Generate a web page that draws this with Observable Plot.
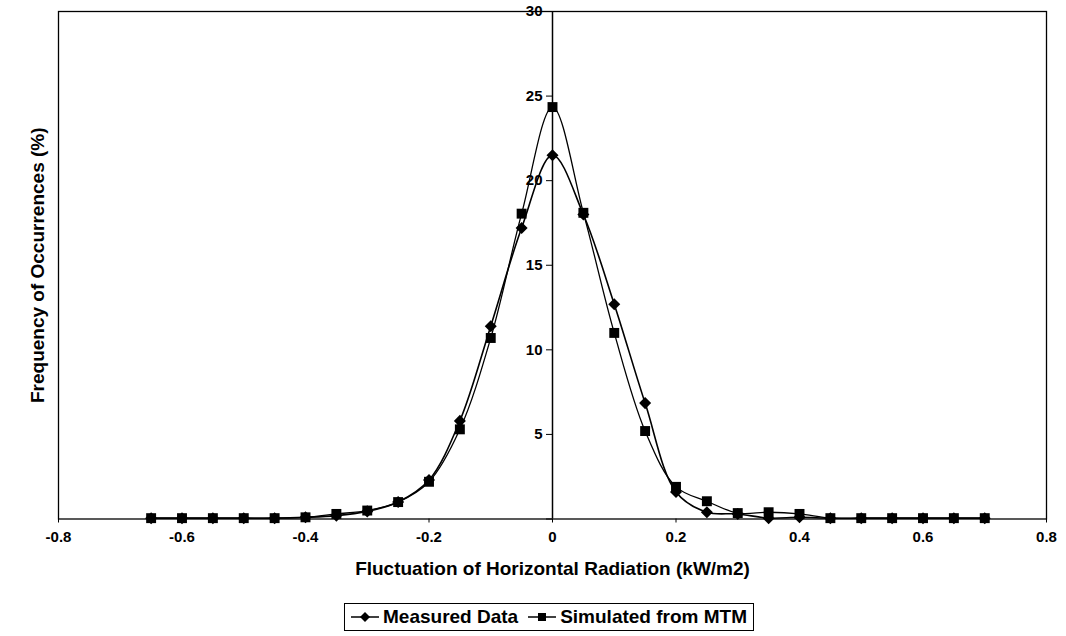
<!DOCTYPE html>
<html><head><meta charset="utf-8">
<script src="https://cdn.jsdelivr.net/npm/d3@7"></script>
<script src="https://cdn.jsdelivr.net/npm/@observablehq/plot@0.6"></script>
<style>
body{margin:0;background:#fff;font-family:"Liberation Sans",Arial,sans-serif;}
#chart{position:absolute;left:0;top:0;}
#legend{position:absolute;left:549px;top:603px;transform:translateX(-50%);height:28px;padding:0 6px;border:1.5px solid #000;box-sizing:border-box;display:flex;align-items:center;gap:10px;font-weight:bold;font-size:19px;color:#000;white-space:nowrap;}
#legend .item{display:flex;align-items:center;gap:4px;}
</style></head><body>
<div id="chart"></div>
<div id="legend"></div>
<script>
const xValues = [-0.65,-0.6,-0.55,-0.5,-0.45,-0.4,-0.35,-0.3,-0.25,-0.2,-0.15,-0.1,-0.05,0,0.05,0.1,0.15,0.2,0.25,0.3,0.35,0.4,0.45,0.5,0.55,0.6,0.65,0.7];
const measured = [0.05,0.05,0.05,0.05,0.05,0.1,0.2,0.45,1.0,2.3,5.8,11.4,17.2,21.5,18.0,12.7,6.85,1.6,0.4,0.3,0.05,0.1,0.05,0.05,0.05,0.05,0.05,0.05];
const simulated = [0.05,0.05,0.05,0.05,0.05,0.1,0.3,0.5,1.0,2.2,5.3,10.7,18.05,24.35,18.1,11.0,5.2,1.9,1.05,0.35,0.4,0.3,0.05,0.05,0.05,0.05,0.05,0.05];
const xTicks = [-0.8,-0.6,-0.4,-0.2,0,0.2,0.4,0.6,0.8];
const yTicks = [0,5,10,15,20,25,30];
const seriesNames = ["Measured Data","Simulated from MTM"];
const xTitle = "Fluctuation of Horizontal Radiation (kW/m2)";
const yTitle = "Frequency of Occurrences (%)";

const rowsM = xValues.map((x,i)=>({x, y: measured[i]}));
const rowsS = xValues.map((x,i)=>({x, y: simulated[i]}));

const diamond = {draw(ctx,size){const r=Math.sqrt(size/2);ctx.moveTo(0,-r);ctx.lineTo(r,0);ctx.lineTo(0,r);ctx.lineTo(-r,0);ctx.closePath();}};
const font = '"Liberation Sans", Arial, sans-serif';

const chart = Plot.plot({
  width:1066, height:590,
  marginLeft:58, marginRight:20, marginTop:11, marginBottom:71.5,
  x:{domain:[-0.8,0.8]},
  y:{domain:[0,30]},
  style:{fontFamily:font, fontWeight:"bold", fontSize:"15px", color:"#000", background:"#fff"},
  marks:[
    Plot.frame({stroke:"#000", strokeWidth:1.3}),
    Plot.ruleX([0], {stroke:"#000", strokeWidth:1.5}),
    Plot.axisX({ticks:xTicks, tickFormat:d=>String(+d.toFixed(1)), tickSize:4, tickPadding:8, label:null, fontSize:15, fontWeight:"bold"}),
    Plot.axisY({x:0, ticks:yTicks, tickFormat:d=>d===0?"":String(d), tickSize:6, tickPadding:4, label:null, fontSize:15, fontWeight:"bold"}),
    Plot.line(rowsM, {x:"x", y:"y", curve:"catmull-rom", stroke:"#000", strokeWidth:1.6}),
    Plot.dot(rowsM, {x:"x", y:"y", symbol:diamond, r:4.8, fill:"#000", stroke:"none"}),
    Plot.line(rowsS, {x:"x", y:"y", curve:"catmull-rom", stroke:"#000", strokeWidth:1.3}),
    Plot.dot(rowsS, {x:"x", y:"y", symbol:"square", r:5.6, fill:"#000", stroke:"none"}),
    Plot.text([yTitle], {text:d=>d, frameAnchor:"left", textAnchor:"middle", lineAnchor:"middle", rotate:-90, dx:-21, fontSize:19, fontWeight:"bold"}),
    Plot.text([xTitle], {text:d=>d, frameAnchor:"bottom", textAnchor:"middle", lineAnchor:"middle", dy:50, fontSize:19, fontWeight:"bold"})
  ]
});
document.getElementById("chart").appendChild(chart);

const legend = document.getElementById("legend");
const symbols = [
  '<polygon points="14,1 19,6 14,11 9,6" fill="#000"/>',
  '<rect x="10" y="2" width="8" height="8" fill="#000"/>'
];
seriesNames.forEach((name,i)=>{
  const item = document.createElement("div");
  item.className = "item";
  item.innerHTML = '<svg width="28" height="12"><line x1="0" y1="6" x2="28" y2="6" stroke="#000" stroke-width="1.5"/>'+symbols[i]+'</svg><span>'+name+'</span>';
  legend.appendChild(item);
});
</script>
</body></html>
